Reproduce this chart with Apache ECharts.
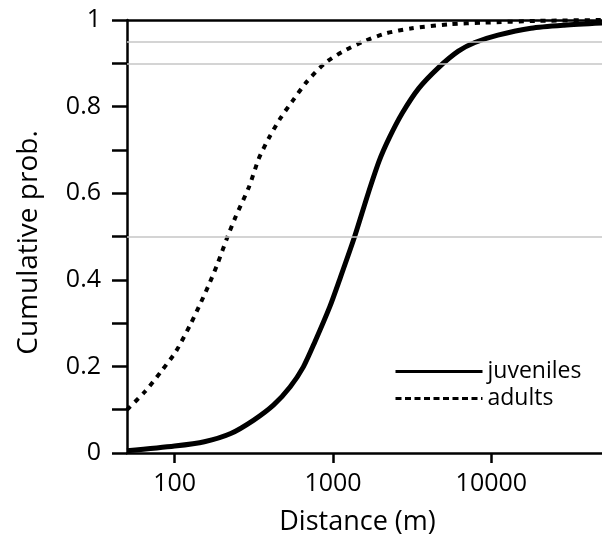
<!DOCTYPE html>
<html>
<head>
<meta charset="utf-8">
<script src="https://cdn.jsdelivr.net/npm/echarts@6/dist/echarts.min.js"></script>
<style>
  html, body { margin: 0; padding: 0; background: #fff; }
  #chart { width: 602px; height: 545px; }
</style>
</head>
<body>
<div id="chart"></div>
<script>
// distances (m) and cumulative probability
const juvDist = [50, 100, 154, 226, 316, 422, 537, 650, 769, 955, 1100, 1370, 1656, 1960, 2262, 2740, 3480, 4640, 6190, 7870, 11000, 17800, 28800, 50000];
const juvProb = [0.005, 0.016, 0.026, 0.045, 0.076, 0.111, 0.153, 0.199, 0.257, 0.338, 0.4, 0.5, 0.596, 0.675, 0.727, 0.785, 0.842, 0.89, 0.928, 0.948, 0.965, 0.981, 0.988, 0.993];
const adultDist = [50, 65, 82, 102, 127, 147, 166, 187, 216, 243, 295, 340, 393, 465, 550, 682, 887, 1150, 1550, 2150, 3160, 5400, 9100, 20000, 50000];
const adultProb = [0.1, 0.142, 0.188, 0.235, 0.3, 0.349, 0.392, 0.438, 0.5, 0.546, 0.615, 0.68, 0.727, 0.773, 0.811, 0.857, 0.9, 0.927, 0.95, 0.969, 0.981, 0.99, 0.994, 0.998, 1.0];
const xTicks = [100, 1000, 10000];
const yLabels = [0, 0.2, 0.4, 0.6, 0.8, 1];
const greyLines = [0.5, 0.9, 0.95];
const topLine = 1;

const font = "Open Sans";
const zip = (xs, ys) => xs.map((x, i) => [x, ys[i]]);

const chart = echarts.init(document.getElementById("chart"));
chart.setOption({
  animation: false,
  textStyle: { fontFamily: font, color: "#000" },
  grid: { left: 127, right: -5, top: 20, bottom: 92 },
  legend: {
    orient: "vertical",
    left: 389,
    top: 355,
    itemWidth: 87,
    itemHeight: 20,
    itemGap: 4,
    textStyle: { fontFamily: font, fontSize: 23, color: "#000" },
    data: [
      { name: "juveniles", itemStyle: { opacity: 0 }, lineStyle: { width: 3 } },
      { name: "adults", itemStyle: { opacity: 0 }, lineStyle: { width: 3, type: [6, 3.5] } }
    ]
  },
  xAxis: {
    type: "log",
    logBase: 10,
    min: 50,
    max: 50000,
    name: "Distance (m)",
    nameLocation: "middle",
    nameGap: 56,
    nameTextStyle: { fontFamily: font, fontSize: 27, color: "#000", padding: [0, 14, 0, 0] },
    axisLine: { lineStyle: { color: "#000", width: 2.5 } },
    axisTick: { show: true, length: 10, lineStyle: { color: "#000", width: 2.5 }, customValues: xTicks },
    axisLabel: { customValues: xTicks, formatter: v => String(v), margin: 18, fontFamily: font, fontSize: 25, color: "#000" },
    splitLine: { show: false },
    minorTick: { show: false }
  },
  yAxis: {
    type: "value",
    min: 0,
    max: 1,
    interval: 0.1,
    name: "Cumulative prob.",
    nameLocation: "middle",
    nameGap: 84,
    nameTextStyle: { fontFamily: font, fontSize: 28, color: "#000", padding: [0, 12, 0, 0] },
    axisLine: { show: true, lineStyle: { color: "#000", width: 2.5 } },
    axisTick: { show: true, length: 15, lineStyle: { color: "#000", width: 2.5 } },
    axisLabel: { customValues: yLabels, margin: 26, fontFamily: font, fontSize: 25, color: "#000" },
    splitLine: { show: false }
  },
  series: [
    {
      name: "grid",
      type: "line",
      data: [],
      z: 1,
      silent: true,
      markLine: {
        silent: true,
        symbol: "none",
        label: { show: false },
        animation: false,
        data: greyLines.map(v => ({ yAxis: v, lineStyle: { color: "#c6c6c6", width: 1.6, type: "solid" } }))
          .concat([{ yAxis: topLine, lineStyle: { color: "#000", width: 2.5, type: "solid" } }])
      }
    },
    {
      name: "juveniles",
      type: "line",
      data: zip(juvDist, juvProb),
      symbol: "none",
      smooth: 0.25,
      z: 3,
      itemStyle: { color: "#000" },
      lineStyle: { color: "#000", width: 5 }
    },
    {
      name: "adults",
      type: "line",
      data: zip(adultDist, adultProb),
      symbol: "none",
      smooth: 0.25,
      z: 3,
      itemStyle: { color: "#000" },
      lineStyle: { color: "#000", width: 4, type: [5, 6] }
    }
  ]
});
</script>
</body>
</html>
